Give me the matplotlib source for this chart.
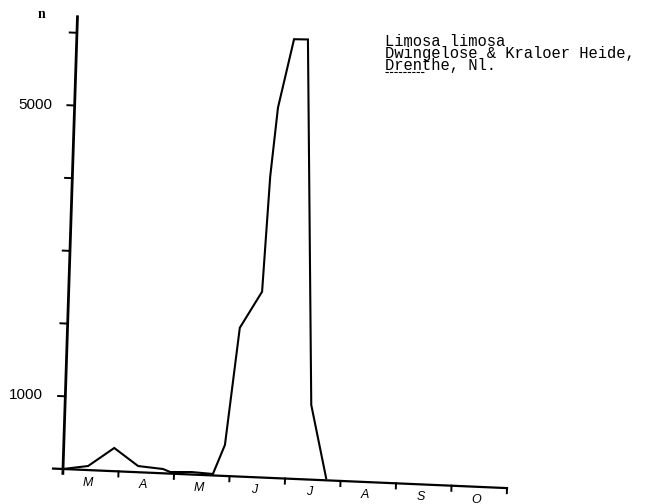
import matplotlib
matplotlib.use('Agg')
import matplotlib.pyplot as plt
import numpy as np
from matplotlib.transforms import Affine2D

# time in months counted from 1 March, counts of birds
months = ['M', 'A', 'M', 'J', 'J', 'A', 'S', 'O']
t_vals = [0, 0.45, 0.91, 1.35, 1.80, 1.93, 2.32, 2.70, 2.90, 3.10,
          3.48, 3.56, 3.66, 3.91, 4.16, 4.43, 4.74]
n_vals = [0, 56, 319, 85, 59, 22, 34, 20, 427, 2044,
          2553, 4140, 5090, 6040, 6045, 1027, 30]
y_ticks = [1000, 2000, 3000, 4000, 5000, 6000]
y_labels = {1000: '1000', 5000: '5000'}
legend_lines = ['Limosa limosa', 'Dwingelose & Kraloer Heide,', 'Drenthe, Nl.']

W, H = 659, 504
OX, OY = 63, 35          # origin of the plot in display pixels
PX_MONTH = 55.5          # pixels per month
PX_UNIT = 0.0727         # pixels per bird

fig = plt.figure(figsize=(W / 100, H / 100), dpi=100, facecolor='white')
ax = fig.add_axes([0, 0, 1, 1])
ax.set_xlim(-OX / PX_MONTH, (W - OX) / PX_MONTH)
ax.set_ylim(-OY / PX_UNIT, (H - OY) / PX_UNIT)
ax.axis('off')

# the scanned drawing is slightly sheared
shear = Affine2D().translate(-OX, -OY).skew(np.arctan(0.032), np.arctan(-0.043)).translate(OX, OY)
tr = ax.transData + shear

# axes drawn by hand
ax.plot([0, 0], [-80, 6240], color='black', lw=2.0, transform=tr, solid_capstyle='butt')
ax.plot([-0.18, 8.0], [0, 0], color='black', lw=1.6, transform=tr)
for v in y_ticks:
    ax.plot([-0.13, 0], [v, v], color='black', lw=1.4, transform=tr)
    if v in y_labels:
        ax.text(-0.40, v, y_labels[v], ha='right', va='center', fontsize=11,
                family='Liberation Sans', transform=tr)
for k in range(1, 9):
    ax.plot([k, k], [0, -70], color='black', lw=1.4, transform=tr)
for k, m in enumerate(months):
    ax.text(k + 0.45, -175, m, ha='center', va='center', fontsize=9,
            family='Liberation Sans', style='italic', transform=tr)

ax.text(-0.64, 6230, 'n', ha='center', va='center', fontsize=10,
        family='Liberation Serif', weight='bold', transform=tr)

# the series
ax.plot(t_vals, n_vals, color='black', lw=1.5, transform=tr, solid_joinstyle='miter')

# typed caption, one block with tight typewriter spacing
fig.text(385 / W, 1 - 34 / H, '\n'.join(legend_lines), ha='left', va='top',
         fontsize=11.2, family='Liberation Mono', linespacing=0.75)
fig.add_artist(plt.Line2D([385 / W, 424 / W], [1 - 72 / H, 1 - 72 / H],
                          color='black', lw=0.8, linestyle=(0, (3, 1))))

fig.savefig('out.png', dpi=100, facecolor='white')
